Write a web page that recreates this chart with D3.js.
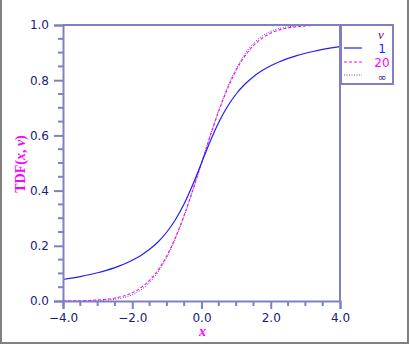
<!DOCTYPE html>
<html>
<head>
<meta charset="utf-8">
<script src="https://cdn.jsdelivr.net/npm/d3@7"></script>
<style>
  html, body { margin: 0; padding: 0; background: #fff; }
  svg { display: block; }
</style>
</head>
<body>
<svg id="chart" width="410" height="345"></svg>
<script>
// ---- data ----
const xValues = [-4, -3.75, -3.5, -3.25, -3, -2.75, -2.5, -2.25, -2, -1.75, -1.5, -1.25, -1, -0.75, -0.5, -0.25,
                 0, 0.25, 0.5, 0.75, 1, 1.25, 1.5, 1.75, 2, 2.25, 2.5, 2.75, 3, 3.25, 3.5, 3.75, 4];
const nu1 = [0.0780, 0.0830, 0.0886, 0.0950, 0.1024, 0.1110, 0.1211, 0.1331, 0.1476, 0.1652, 0.1872, 0.2148, 0.2500, 0.2952, 0.3524, 0.4220,
             0.5000, 0.5780, 0.6476, 0.7048, 0.7500, 0.7852, 0.8128, 0.8348, 0.8524, 0.8669, 0.8789, 0.8890, 0.8976, 0.9050, 0.9114, 0.9170, 0.9220];
const nu20 = [0.0004, 0.0006, 0.0011, 0.0020, 0.0035, 0.0062, 0.0106, 0.0180, 0.0296, 0.0478, 0.0746, 0.1128, 0.1646, 0.2310, 0.3113, 0.4026,
              0.5000, 0.5974, 0.6887, 0.7690, 0.8354, 0.8872, 0.9254, 0.9522, 0.9704, 0.9820, 0.9894, 0.9938, 0.9965, 0.9980, 0.9989, 0.9994, 0.9996];
const nuInf = [0.0000, 0.0001, 0.0002, 0.0006, 0.0013, 0.0030, 0.0062, 0.0122, 0.0228, 0.0401, 0.0668, 0.1057, 0.1587, 0.2266, 0.3085, 0.4013,
               0.5000, 0.5987, 0.6915, 0.7734, 0.8413, 0.8943, 0.9332, 0.9599, 0.9772, 0.9878, 0.9938, 0.9970, 0.9987, 0.9994, 0.9998, 0.9999, 1.0000];
const seriesNames = ["1", "20", "\u221E"];
const xTicks = [-4, -2, 0, 2, 4];
const xTickLabels = ["\u22124.0", "\u22122.0", "0.0", "2.0", "4.0"];
const yTicks = [0, 0.2, 0.4, 0.6, 0.8, 1.0];
const yTickLabels = ["0.0", "0.2", "0.4", "0.6", "0.8", "1.0"];

// ---- layout ----
const svg = d3.select("#chart");
const axisColor = "#8080c0";
const labelColor = "#1a1a80";
const x = d3.scaleLinear().domain([-4, 4]).range([63, 340]);
const y = d3.scaleLinear().domain([0, 1]).range([301, 25]);

// outer frame
svg.append("path").attr("d", "M1,0 V343 H408 V0")
  .attr("fill", "none").attr("stroke", "#808080").attr("stroke-width", 2);

// curves
const series = [
  { name: seriesNames[0], values: nu1, color: "#1f1fff", dash: null, width: 1.2 },
  { name: seriesNames[1], values: nu20, color: "#ff00ff", dash: "3,2", width: 1.1 },
  { name: seriesNames[2], values: nuInf, color: "#555580", dash: "1,1.5", width: 1 }
];
const line = d3.line().x((d, i) => x(xValues[i])).y(d => y(d)).curve(d3.curveMonotoneX);
const plot = svg.append("g");
series.slice().reverse().forEach(s => {
  plot.append("path").datum(s.values)
    .attr("d", line)
    .attr("fill", "none")
    .attr("stroke", s.color)
    .attr("stroke-width", s.width)
    .attr("stroke-dasharray", s.dash);
});

// plot box (top & right)
svg.append("path").attr("d", `M${x(-4)},${y(1)} H${x(4)} V${y(0)}`)
  .attr("fill", "none").attr("stroke", axisColor).attr("stroke-width", 2);

// axes
const xAxis = d3.axisBottom(x).tickValues(xTicks).tickFormat((d, i) => xTickLabels[i]).tickSize(8).tickPadding(4);
const gx = svg.append("g").attr("transform", `translate(0,${y(0)})`).call(xAxis);
const yAxis = d3.axisLeft(y).tickValues(yTicks).tickFormat((d, i) => yTickLabels[i]).tickSize(9).tickPadding(4);
const gy = svg.append("g").attr("transform", `translate(${x(-4)},0)`).call(yAxis);

// minor ticks
const xMinor = d3.range(-4, 4.001, 0.5).filter(v => Math.abs(v % 2) > 1e-6);
const yMinor = d3.range(0, 1.001, 0.05).filter(v => Math.abs(Math.round(v * 5) - v * 5) > 1e-6);
gx.selectAll(".minor").data(xMinor).enter().append("line")
  .attr("class", "minor").attr("x1", d => x(d)).attr("x2", d => x(d)).attr("y1", 0).attr("y2", 5);
gy.selectAll(".minor").data(yMinor).enter().append("line")
  .attr("class", "minor").attr("y1", d => y(d)).attr("y2", d => y(d)).attr("x1", 0).attr("x2", -5);

[gx, gy].forEach(g => {
  g.select(".domain").attr("stroke", axisColor).attr("stroke-width", 2);
  g.selectAll("line").attr("stroke", axisColor).attr("stroke-width", 2);
  g.selectAll("text").attr("fill", labelColor)
    .style("font-family", "'DejaVu Sans', sans-serif").style("font-size", "12px");
});
gy.selectAll(".tick text").attr("x", -14);

// axis titles
svg.append("text")
  .attr("transform", `translate(25,164) rotate(-90)`)
  .attr("text-anchor", "middle")
  .attr("fill", "#ff00ff")
  .attr("font-weight", "bold")
  .style("font-family", "'Liberation Serif', serif").style("font-size", "14px")
  .call(t => {
    t.append("tspan").text("TDF(");
    t.append("tspan").attr("font-style", "italic").text("x");
    t.append("tspan").text(", ");
    t.append("tspan").attr("font-style", "italic").text("\u03BD");
    t.append("tspan").text(")");
  });
svg.append("text")
  .attr("x", x(0) + 1).attr("y", 336)
  .attr("text-anchor", "middle")
  .attr("fill", "#ff00ff")
  .attr("font-style", "italic").attr("font-weight", "bold")
  .style("font-family", "'Liberation Serif', serif").style("font-size", "14px")
  .text("x");

// legend
const lg = svg.append("g");
lg.append("rect").attr("x", 341).attr("y", 25).attr("width", 52).attr("height", 59)
  .attr("fill", "#fff").attr("stroke", axisColor).attr("stroke-width", 2);
lg.append("text").attr("x", 381).attr("y", 39).attr("text-anchor", "middle")
  .attr("fill", "#800080").attr("font-style", "italic")
  .style("font-family", "'Liberation Serif', serif").style("font-size", "13px").text("\u03BD");
const legendColors = ["#1f1fff", "#ff00ff", "#1a1a80"];
const legendY = [48, 62, 75];
const legendBase = [53, 67, 80.5];
const legendSize = ["12px", "12px", "10.5px"];
series.forEach((s, i) => {
  lg.append("line").attr("x1", 344).attr("x2", 362).attr("y1", legendY[i]).attr("y2", legendY[i])
    .attr("stroke", s.color).attr("stroke-width", s.width).attr("stroke-dasharray", s.dash);
  lg.append("text").attr("x", 382).attr("y", legendBase[i]).attr("text-anchor", "middle")
    .attr("fill", legendColors[i])
    .style("font-family", "'DejaVu Sans', sans-serif").style("font-size", legendSize[i])
    .text(s.name);
});
</script>
</body>
</html>
